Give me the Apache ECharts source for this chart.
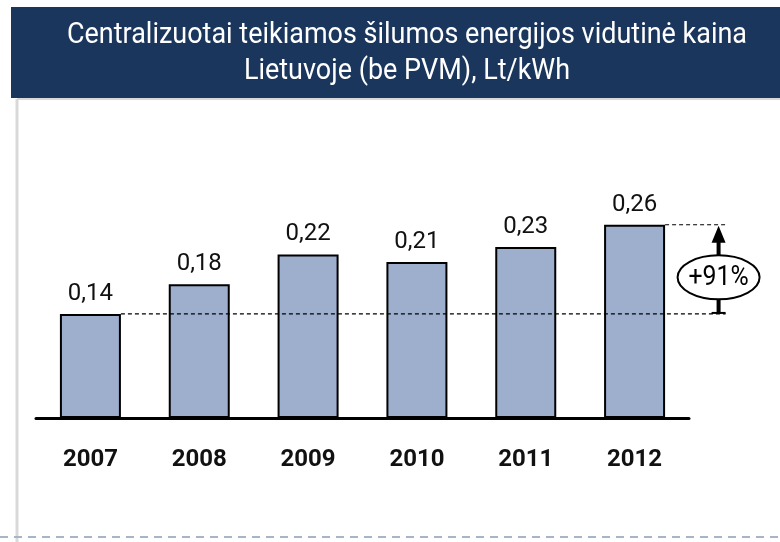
<!DOCTYPE html>
<html>
<head>
<meta charset="utf-8">
<script src="https://cdn.jsdelivr.net/npm/echarts@6/dist/echarts.min.js"></script>
<style>
  html, body { margin: 0; padding: 0; background: #fff; }
  #main { width: 780px; height: 542px; }
</style>
</head>
<body>
<div id="main"></div>
<script>
var years = ['2007', '2008', '2009', '2010', '2011', '2012'];
var prices = [0.14, 0.18, 0.22, 0.21, 0.23, 0.26];
var growthLabel = '+91%';
var titleLines = ['Centralizuotai teikiamos šilumos energijos vidutinė kaina', 'Lietuvoje (be PVM), Lt/kWh'];

var chart = echarts.init(document.getElementById('main'));

var option = {
    backgroundColor: '#ffffff',
    animation: false,
    grid: { left: 36, right: 91, top: 195, bottom: 124 },
    xAxis: {
        type: 'category',
        data: years,
        axisLine: { lineStyle: { color: '#000', width: 3 } },
        axisTick: { show: false },
        axisLabel: {
            margin: 30,
            color: '#111',
            fontSize: 24,
            fontFamily: 'Roboto, sans-serif',
            fontWeight: 'bold'
        }
    },
    yAxis: {
        type: 'value',
        min: 0,
        max: 0.3,
        show: false,
        splitLine: { show: false }
    },
    series: [{
        type: 'bar',
        data: prices,
        barWidth: 61,
        itemStyle: { color: '#9dafcd', borderColor: '#000', borderWidth: 2 },
        label: {
            show: true,
            position: 'top',
            distance: 8,
            color: '#111',
            fontSize: 24,
            fontFamily: 'Roboto, sans-serif',
            formatter: function (p) { return p.value.toFixed(2).replace('.', ','); }
        }
    }],
    graphic: [
        // antraštės juosta
        { type: 'rect', shape: { x: 11, y: 7, width: 769, height: 91 }, style: { fill: '#1b365d' } },
        { type: 'text', x: 407, y: 36, scaleX: 0.93, style: { x: 0, y: 0, text: titleLines[0], fill: '#fff', font: '29px Roboto, sans-serif', align: 'center', verticalAlign: 'middle' } },
        { type: 'text', x: 407, y: 72, scaleX: 0.93, style: { x: 0, y: 0, text: titleLines[1], fill: '#fff', font: '29px Roboto, sans-serif', align: 'center', verticalAlign: 'middle' } },
        // rėmelis
        { type: 'line', shape: { x1: 17, y1: 99, x2: 780, y2: 99 }, style: { stroke: '#d9d9d9', lineWidth: 2 } },
        { type: 'line', shape: { x1: 17, y1: 99, x2: 17, y2: 542 }, style: { stroke: '#d9d9d9', lineWidth: 3 } },
        { type: 'line', shape: { x1: 0, y1: 537, x2: 780, y2: 537 }, style: { stroke: '#a7b5c9', lineWidth: 2, lineDash: [8, 6] } }
    ]
};
chart.setOption(option);

// anotacija: brūkšninės linijos ir rodyklė su +91%
var first = chart.convertToPixel({ seriesIndex: 0 }, [0, prices[0]]);
var last = chart.convertToPixel({ seriesIndex: 0 }, [prices.length - 1, prices[prices.length - 1]]);
var half = 30.5;
var ax = last[0] + 84;
var lineEnd = ax + 7;
var midY = (first[1] + last[1]) / 2 + 8;

chart.setOption({
    graphic: option.graphic.concat([
        { type: 'line', z: 10, shape: { x1: first[0] + half, y1: first[1], x2: lineEnd, y2: first[1] }, style: { stroke: '#000', lineWidth: 1.2, lineDash: [4, 3] } },
        { type: 'line', z: 10, shape: { x1: last[0] + half, y1: last[1], x2: lineEnd, y2: last[1] }, style: { stroke: '#000', lineWidth: 1.2, lineDash: [4, 3] } },
        { type: 'line', z: 10, shape: { x1: ax, y1: last[1] + 14, x2: ax, y2: first[1] }, style: { stroke: '#000', lineWidth: 4 } },
        { type: 'polygon', z: 10, shape: { points: [[ax, last[1] + 1], [ax - 7, last[1] + 18], [ax + 7, last[1] + 18]] }, style: { fill: '#000' } },
        { type: 'line', z: 10, shape: { x1: ax - 7, y1: first[1] - 1, x2: ax + 7, y2: first[1] - 1 }, style: { stroke: '#000', lineWidth: 2 } },
        { type: 'ellipse', z: 11, shape: { cx: ax, cy: midY, rx: 41, ry: 22 }, style: { fill: '#fff', stroke: '#000', lineWidth: 2 } },
        { type: 'text', z: 12, x: ax, y: midY + 1, scaleX: 0.92, style: { x: 0, y: 0, text: growthLabel, fill: '#000', font: '27px Roboto, sans-serif', align: 'center', verticalAlign: 'middle' } }
    ])
});
</script>
</body>
</html>
